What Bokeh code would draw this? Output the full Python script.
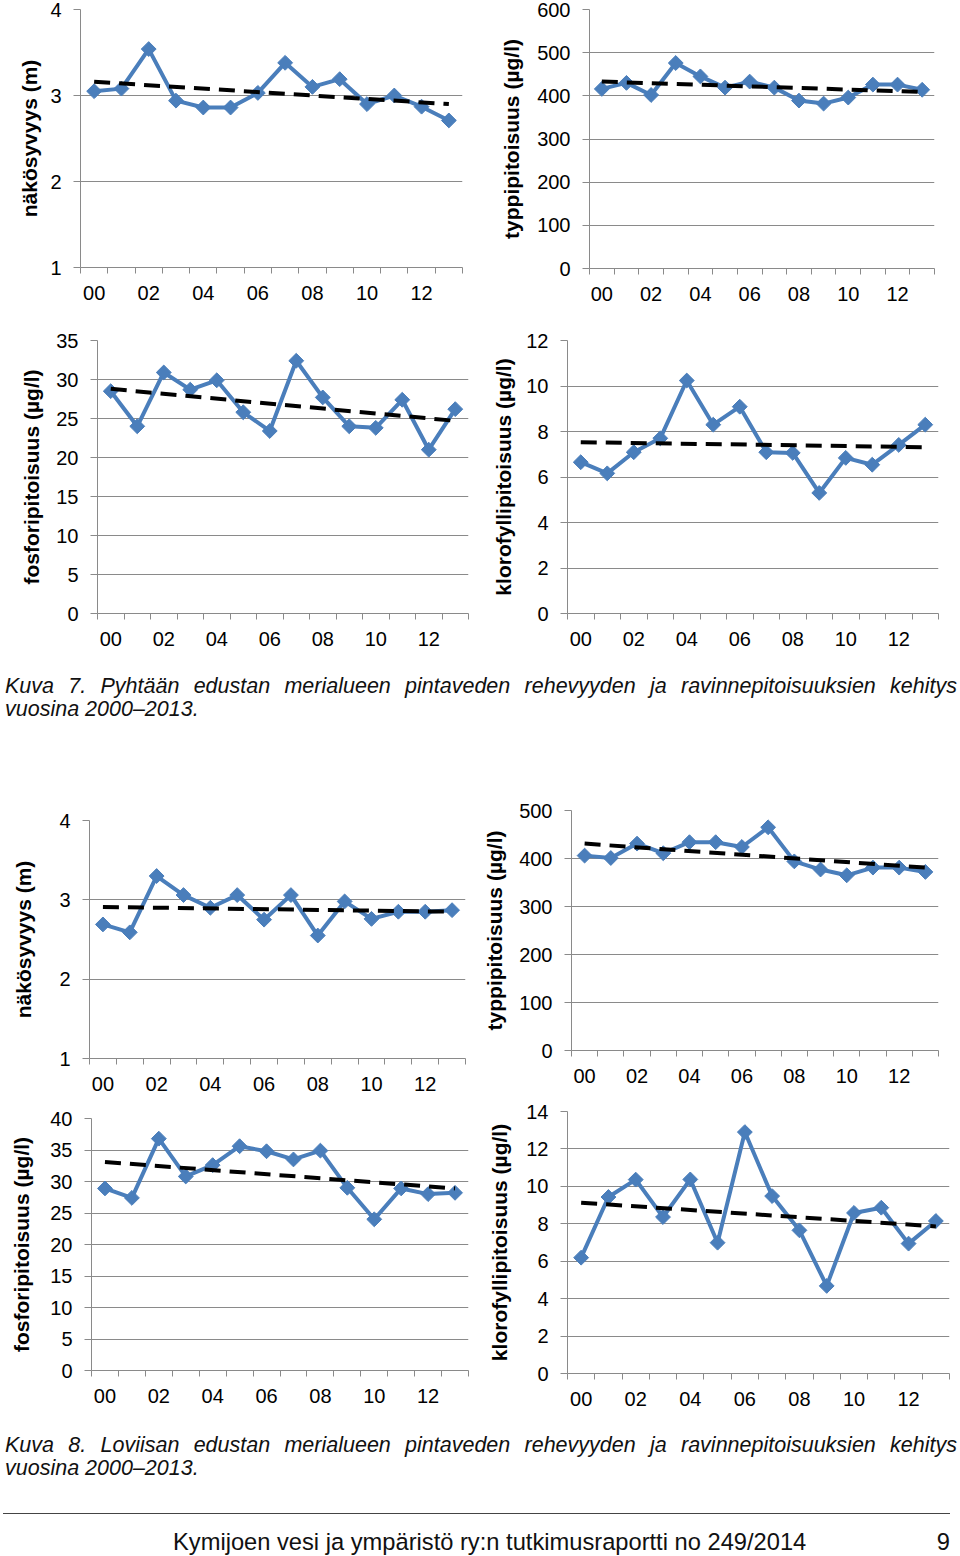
import math
from bokeh.plotting import figure
from bokeh.models import Range1d, FixedTicker, Div
from bokeh.layouts import column, row
from bokeh.embed import file_html
from bokeh.resources import INLINE

# ---------------- data ----------------
years = ["00", "01", "02", "03", "04", "05", "06", "07", "08", "09", "10", "11", "12", "13"]

# Kuva 7 - Pyhtää
pyh_secchi = [3.05, 3.08, 3.54, 2.94, 2.86, 2.86, 3.03, 3.38, 3.10, 3.19, 2.90, 3.00, 2.87, 2.71]
pyh_secchi_trend = [3.16, 2.90]
pyh_ntot = [416, 430, 402, 476, 445, 419, 433, 419, 389, 382, 396, 426, 426, 414]
pyh_ntot_trend = [433, 409]
pyh_ptot = [28.5, 24.0, 30.9, 28.7, 29.9, 25.8, 23.4, 32.4, 27.7, 24.0, 23.8, 27.4, 21.0, 26.2]
pyh_ptot_trend = [28.8, 24.7]
pyh_chl = [6.65, 6.16, 7.09, 7.70, 10.24, 8.30, 9.09, 7.09, 7.06, 5.30, 6.84, 6.54, 7.41, 8.30]
pyh_chl_trend = [7.53, 7.31]

# Kuva 8 - Loviisa
lov_secchi = [2.69, 2.59, 3.30, 3.06, 2.90, 3.06, 2.75, 3.06, 2.55, 2.98, 2.76, 2.85, 2.85, 2.87]
lov_secchi_trend = [2.91, 2.85]
lov_ntot = [406, 401, 431, 411, 434, 434, 424, 465, 394, 377, 365, 381, 381, 372]
lov_ntot_trend = [431, 381]
lov_ptot = [28.9, 27.4, 36.8, 30.8, 32.6, 35.6, 34.8, 33.5, 34.9, 29.0, 24.0, 28.9, 28.0, 28.2]
lov_ptot_trend = [33.1, 28.9]
lov_chl = [6.19, 9.43, 10.36, 8.36, 10.37, 6.99, 12.90, 9.48, 7.65, 4.68, 8.58, 8.86, 6.94, 8.15]
lov_chl_trend = [9.13, 7.86]

# y tick values
pyh_secchi_ticks = [1, 2, 3, 4]
pyh_ntot_ticks = [0, 100, 200, 300, 400, 500, 600]
pyh_ptot_ticks = [0, 5, 10, 15, 20, 25, 30, 35]
pyh_chl_ticks = [0, 2, 4, 6, 8, 10, 12]
lov_secchi_ticks = [1, 2, 3, 4]
lov_ntot_ticks = [0, 100, 200, 300, 400, 500]
lov_ptot_ticks = [0, 5, 10, 15, 20, 25, 30, 35, 40]
lov_chl_ticks = [0, 2, 4, 6, 8, 10, 12, 14]

label_secchi = "näkösyvyys (m)"
label_ntot = "typpipitoisuus (µg/l)"
label_ptot = "fosforipitoisuus (µg/l)"
label_chl = "klorofyllipitoisuus (µg/l)"

caption7 = ["Kuva 7. Pyhtään edustan merialueen pintaveden rehevyyden ja ravinnepitoisuuksien kehitys",
            "vuosina 2000–2013."]
caption8 = ["Kuva 8. Loviisan edustan merialueen pintaveden rehevyyden ja ravinnepitoisuuksien kehitys",
            "vuosina 2000–2013."]
footer = "Kymijoen vesi ja ympäristö ry:n tutkimusraportti no 249/2014"
page_no = "9"

# ---------------- style ----------------
BLUE = "#4A7EBB"
GRAY = "#8a8a8a"
FONT = "Liberation Sans"


def panel(values, trend, yticks, ylabel, W, H, left, right, top, bottom, lab_standoff):
    n = len(years)
    xs = list(range(n))
    p = figure(width=W, height=H, output_backend="svg", toolbar_location=None,
               x_range=Range1d(-0.5, n - 0.5),
               y_range=Range1d(yticks[0], yticks[-1]),
               min_border_left=left, min_border_right=right,
               min_border_top=top, min_border_bottom=bottom)
    p.outline_line_color = None
    p.background_fill_color = "white"
    p.border_fill_color = "white"
    p.xgrid.visible = False
    p.ygrid.grid_line_color = GRAY
    p.ygrid.grid_line_width = 1

    # x axis: labels at even years, ticks between categories
    xt = FixedTicker(ticks=xs[::2], minor_ticks=[i - 0.5 for i in range(n + 1)])
    xa = p.xaxis[0]
    xa.ticker = xt
    xa.major_label_overrides = {i: years[i] for i in xs}
    xa.major_tick_line_color = None
    xa.major_tick_in = 0
    xa.major_tick_out = 0
    xa.minor_tick_in = 0
    xa.minor_tick_out = 6
    xa.minor_tick_line_color = GRAY
    xa.axis_line_color = GRAY
    xa.major_label_text_font = FONT
    xa.major_label_text_font_size = "20px"
    xa.major_label_text_color = "black"
    xa.major_label_standoff = 12

    ya = p.yaxis[0]
    ya.ticker = FixedTicker(ticks=yticks)
    ya.minor_tick_line_color = None
    ya.major_tick_in = 0
    ya.major_tick_out = 7
    ya.major_tick_line_color = GRAY
    ya.axis_line_color = GRAY
    ya.major_label_text_font = FONT
    ya.major_label_text_font_size = "20px"
    ya.major_label_text_color = "black"
    ya.major_label_standoff = 12
    ya.axis_label = ylabel
    ya.axis_label_text_font = FONT
    ya.axis_label_text_font_style = "bold"
    ya.axis_label_text_font_size = "21px"
    ya.axis_label_text_color = "black"
    ya.axis_label_standoff = lab_standoff

    p.line(xs, values, line_color=BLUE, line_width=4, line_join="round")
    p.scatter(xs, values, marker="square", angle=math.pi / 4, size=10.5,
              fill_color=BLUE, line_color=BLUE)
    p.line([xs[0], xs[-1]], trend, line_color="black", line_width=4,
           line_dash="16 9")
    return p


p1 = panel(pyh_secchi, pyh_secchi_trend, pyh_secchi_ticks, label_secchi, 480, 315, 80, 18, 9, 48, 6)
p2 = panel(pyh_ntot, pyh_ntot_trend, pyh_ntot_ticks, label_ntot, 480, 315, 109, 26, 9, 47, 11)
p3 = panel(pyh_ptot, pyh_ptot_trend, pyh_ptot_ticks, label_ptot, 480, 350, 97, 12, 25, 52, 10)
p4 = panel(pyh_chl, pyh_chl_trend, pyh_chl_ticks, label_chl, 480, 350, 87, 22, 25, 52, 8)
p5 = panel(lov_secchi, lov_secchi_trend, lov_secchi_ticks, label_secchi, 480, 310, 89, 15, 30, 42, 21)
p6 = panel(lov_ntot, lov_ntot_trend, lov_ntot_ticks, label_ntot, 480, 310, 90, 22, 20, 50, 10)
p7 = panel(lov_ptot, lov_ptot_trend, lov_ptot_ticks, label_ptot, 480, 320, 91, 12, 18, 50, 14)
p8 = panel(lov_chl, lov_chl_trend, lov_chl_ticks, label_chl, 480, 320, 87, 11, 11, 47, 12)

cap_font = ("font-family:'Liberation Sans';font-style:italic;font-size:21.5px;"
            "line-height:23px;color:#111;white-space:nowrap;")


def caption_html(lines, top):
    return (f'<div style="position:absolute;left:5px;top:{top}px;width:952px;{cap_font}'
            f'text-align:justify;text-align-last:justify;">{lines[0]}</div>'
            f'<div style="position:absolute;left:5px;top:{top + 23}px;{cap_font}">{lines[1]}</div>')


div7 = Div(width=960, height=125, margin=(0, 0, 0, 0), text=(
    '<div style="position:relative;width:960px;height:125px;background:white;">'
    + caption_html(caption7, 10) + '</div>'))

foot_font = "font-family:'Liberation Sans';font-size:23.7px;line-height:28px;color:#111;white-space:nowrap;"
div8 = Div(width=960, height=136, margin=(0, 0, 0, 0), text=(
    '<div style="position:relative;width:960px;height:136px;background:white;">'
    + caption_html(caption8, 14)
    + '<div style="position:absolute;left:3px;top:93px;width:947px;height:0;border-top:1px solid #444;"></div>'
    + f'<div style="position:absolute;left:173px;top:108px;{foot_font}">{footer}</div>'
    + f'<div style="position:absolute;right:10px;top:108px;{foot_font}">{page_no}</div>'
    + '</div>'))

layout = column(row(column(p1), column(p2)), row(column(p3), column(p4)), div7,
                row(column(p5), column(p6)), row(column(p7), column(p8)), div8)

open("out.html", "w").write(file_html(layout, INLINE))
